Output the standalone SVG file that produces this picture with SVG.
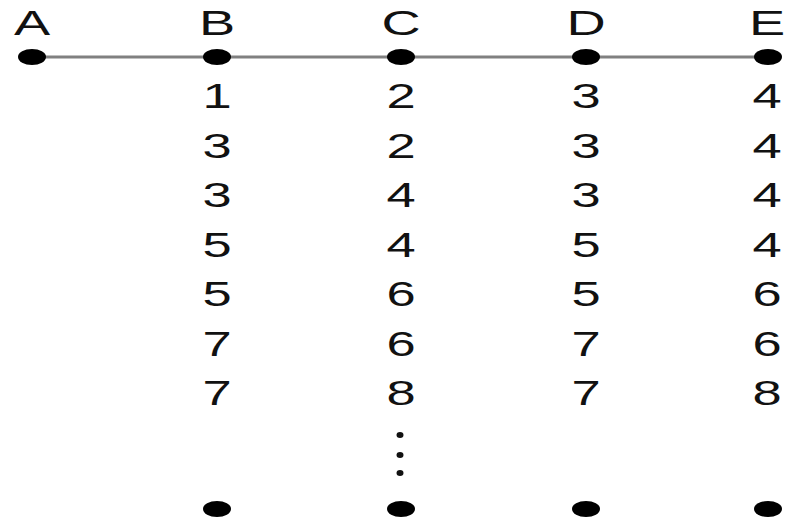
<svg xmlns="http://www.w3.org/2000/svg" width="786" height="520" viewBox="0 0 786 520">
<style>
text{font-family:"Liberation Sans",Arial,sans-serif;font-size:35px;fill:#111;text-anchor:middle}
.dot{fill:#000}
.sm{fill:#111}
.line{stroke:#808080;stroke-width:3;fill:none}
</style>
<rect width="786" height="520" fill="#fff"/>
<g id="connectors">
<line class="line" x1="32" y1="57" x2="768" y2="57"/>
</g>
<g id="nodeA">
<text transform="translate(32,35) scale(1.55,1)">A</text>
<ellipse class="dot" cx="32" cy="57" rx="14" ry="8"/>
</g>
<g id="nodeB">
<text transform="translate(217,35) scale(1.55,1)">B</text>
<ellipse class="dot" cx="217" cy="57" rx="14" ry="8"/>
<text transform="translate(217,108) scale(1.5,1)">1</text>
<text transform="translate(217,157.5) scale(1.5,1)">3</text>
<text transform="translate(217,207) scale(1.5,1)">3</text>
<text transform="translate(217,256.5) scale(1.5,1)">5</text>
<text transform="translate(217,306) scale(1.5,1)">5</text>
<text transform="translate(217,355.5) scale(1.5,1)">7</text>
<text transform="translate(217,405) scale(1.5,1)">7</text>
<ellipse class="dot" cx="217" cy="509" rx="14" ry="8"/>
</g>
<g id="nodeC">
<text transform="translate(401,35) scale(1.55,1)">C</text>
<ellipse class="dot" cx="401" cy="57" rx="14" ry="8"/>
<text transform="translate(401,108) scale(1.5,1)">2</text>
<text transform="translate(401,157.5) scale(1.5,1)">2</text>
<text transform="translate(401,207) scale(1.5,1)">4</text>
<text transform="translate(401,256.5) scale(1.5,1)">4</text>
<text transform="translate(401,306) scale(1.5,1)">6</text>
<text transform="translate(401,355.5) scale(1.5,1)">6</text>
<text transform="translate(401,405) scale(1.5,1)">8</text>
<ellipse class="sm" cx="400" cy="435" rx="3.5" ry="3"/>
<ellipse class="sm" cx="400" cy="455" rx="3.5" ry="3"/>
<ellipse class="sm" cx="400" cy="473" rx="3.5" ry="3"/>
<ellipse class="dot" cx="401" cy="509" rx="14" ry="8"/>
</g>
<g id="nodeD">
<text transform="translate(586,35) scale(1.55,1)">D</text>
<ellipse class="dot" cx="586" cy="57" rx="14" ry="8"/>
<text transform="translate(586,108) scale(1.5,1)">3</text>
<text transform="translate(586,157.5) scale(1.5,1)">3</text>
<text transform="translate(586,207) scale(1.5,1)">3</text>
<text transform="translate(586,256.5) scale(1.5,1)">5</text>
<text transform="translate(586,306) scale(1.5,1)">5</text>
<text transform="translate(586,355.5) scale(1.5,1)">7</text>
<text transform="translate(586,405) scale(1.5,1)">7</text>
<ellipse class="dot" cx="586" cy="509" rx="14" ry="8"/>
</g>
<g id="nodeE">
<text transform="translate(767,35) scale(1.55,1)">E</text>
<ellipse class="dot" cx="768" cy="57" rx="14" ry="8"/>
<text transform="translate(767,108) scale(1.5,1)">4</text>
<text transform="translate(767,157.5) scale(1.5,1)">4</text>
<text transform="translate(767,207) scale(1.5,1)">4</text>
<text transform="translate(767,256.5) scale(1.5,1)">4</text>
<text transform="translate(767,306) scale(1.5,1)">6</text>
<text transform="translate(767,355.5) scale(1.5,1)">6</text>
<text transform="translate(767,405) scale(1.5,1)">8</text>
<ellipse class="dot" cx="768" cy="509" rx="14" ry="8"/>
</g>
</svg>
